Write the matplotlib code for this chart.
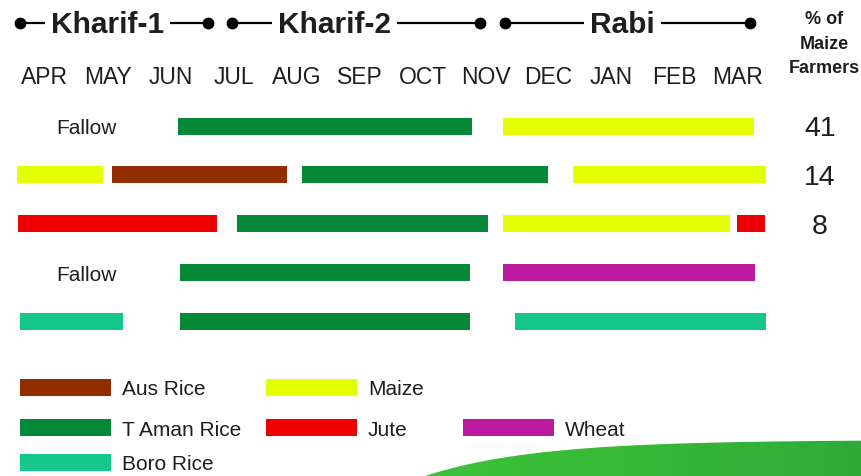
import matplotlib
matplotlib.use("Agg")
import matplotlib.pyplot as plt
import numpy as np
from matplotlib.patches import Rectangle, Polygon
from matplotlib.colors import LinearSegmentedColormap

plt.rcParams['font.family'] = ['Liberation Sans', 'DejaVu Sans']

# ---- data ----
months = ["APR", "MAY", "JUN", "JUL", "AUG", "SEP", "OCT", "NOV", "DEC", "JAN", "FEB", "MAR"]
crop_colors = {
    "Aus Rice": "#922D00",
    "Maize": "#E3FF00",
    "T Aman Rice": "#058837",
    "Jute": "#EE0000",
    "Wheat": "#BC1BA0",
    "Boro Rice": "#17C68C",
}
# each pattern: list of (crop, start_month, end_month); months counted from 1 April
pattern1 = [("T Aman Rice", 2.62, 7.29), ("Maize", 7.78, 11.76)]
pattern2 = [("Maize", 0.06, 1.43), ("Aus Rice", 1.57, 4.35), ("T Aman Rice", 4.59, 8.49), ("Maize", 8.89, 11.95)]
pattern3 = [("Jute", 0.08, 3.24), ("T Aman Rice", 3.56, 7.54), ("Maize", 7.78, 11.38), ("Jute", 11.49, 11.94)]
pattern4 = [("T Aman Rice", 2.65, 7.25), ("Wheat", 7.78, 11.78)]
pattern5 = [("Boro Rice", 0.11, 1.75), ("T Aman Rice", 2.65, 7.25), ("Boro Rice", 7.97, 11.95)]
patterns = [pattern1, pattern2, pattern3, pattern4, pattern5]
fallow_rows = [0, 3]
fallow_pos = 1.17
pct_farmers = ["41", "14", "8", "", ""]
# season name, dot start, dot end, text centre (months)
seasons = [("Kharif-1", 0.11, 3.10, 1.50), ("Kharif-2", 3.48, 7.41, 5.11), ("Rabi", 7.81, 11.70, 9.67)]
legend_layout = [
    ("Aus Rice", 0, 0), ("Maize", 1, 0),
    ("T Aman Rice", 0, 1), ("Jute", 1, 1), ("Wheat", 2, 1),
    ("Boro Rice", 0, 2),
]

W, H = 861, 477
fig = plt.figure(figsize=(W / 100, H / 100), dpi=100)
fig.patch.set_facecolor("white")

# background decoration (slide swoosh) in pixel coordinates
bg = fig.add_axes([0, 0, 1, 1])
bg.set_xlim(0, W)
bg.set_ylim(H, 0)
bg.axis("off")
xs = np.linspace(425, W, 120)
ys = 441 + 36 * np.exp(-(xs - 425) / 110)
poly = np.vstack([np.column_stack([xs, ys]), [[W, H], [425, H]]])
patch = Polygon(poly, closed=True, facecolor="none", edgecolor="none", zorder=0)
bg.add_patch(patch)
cmap = LinearSegmentedColormap.from_list("sw", ["#3cc23a", "#36b836", "#2faa38"])
grad = np.linspace(0, 1, 256).reshape(1, -1)
im = bg.imshow(grad, cmap=cmap, extent=(425, W, H, 436), aspect="auto", zorder=0)
im.set_clip_path(patch)
bg.set_xlim(0, W)
bg.set_ylim(H, 0)

# main axes: x in months, y in row index
ax = fig.add_axes([0, 0, 1, 1])
ax.patch.set_alpha(0)
ppm = 63.0      # pixels per month
x0 = 13         # pixel of 1 April
ppr = 48.75     # pixels per row
y0 = 127        # pixel of first row
ax.set_xlim(-x0 / ppm, (W - x0) / ppm)
ax.set_ylim((H - y0) / ppr, -y0 / ppr)
ax.axis("off")


def px(x):
    return (x - x0) / ppm


def py(y):
    return (y - y0) / ppr


bar_h = 17 / ppr
txt = "#1e1e1e"

for r, pat in enumerate(patterns):
    for crop, s, e in pat:
        ax.broken_barh([(s, e - s)], (r - bar_h / 2, bar_h), facecolors=crop_colors[crop], edgecolor="none")
    if r in fallow_rows:
        ax.text(fallow_pos, r + 7.5 / ppr, "Fallow", ha="center", va="baseline", fontsize=15, color=txt)
    if pct_farmers[r]:
        ax.text(px(820), r + 9 / ppr, pct_farmers[r], ha="center", va="baseline", fontsize=20.5, color=txt)

# month labels
for i, m in enumerate(months):
    ax.text(i + 0.5, py(84), m, ha="center", va="baseline", fontsize=16.5, color=txt)

# season headers
line_y = py(24)
for name, s, e, c in seasons:
    tt = ax.text(c, py(33), name, ha="center", va="baseline", fontsize=21.5, fontweight="bold", color=txt)
    fig.canvas.draw()
    bb = tt.get_window_extent().transformed(ax.transData.inverted())
    gap = 6 / ppm
    ax.plot([s, bb.x0 - gap], [line_y, line_y], color="black", lw=1.6, solid_capstyle="butt")
    ax.plot([bb.x1 + gap, e], [line_y, line_y], color="black", lw=1.6, solid_capstyle="butt")
    ax.plot([s, e], [line_y, line_y], "o", color="black", ms=7.5)

# % of Maize Farmers
for line, yb in zip(["% of", "Maize", "Farmers"], [24, 49, 73]):
    ax.text(px(824), py(yb), line, ha="center", va="baseline", fontsize=13, fontweight="bold", color=txt)

# legend
leg_cols = [20, 266, 463]
leg_rows = [388, 428, 463]
sw_w = 91
sw_h = 17
for crop, c, rr in legend_layout:
    lx = px(leg_cols[c])
    ly = py(leg_rows[rr])
    ax.add_patch(Rectangle((lx, ly - sw_h / 2 / ppr), sw_w / ppm, sw_h / ppr,
                           facecolor=crop_colors[crop], edgecolor="none"))
    ax.text(lx + (sw_w + 11) / ppm, ly + 7.5 / ppr, crop, ha="left", va="baseline", fontsize=15, color=txt)

fig.savefig("out.png", dpi=100)
